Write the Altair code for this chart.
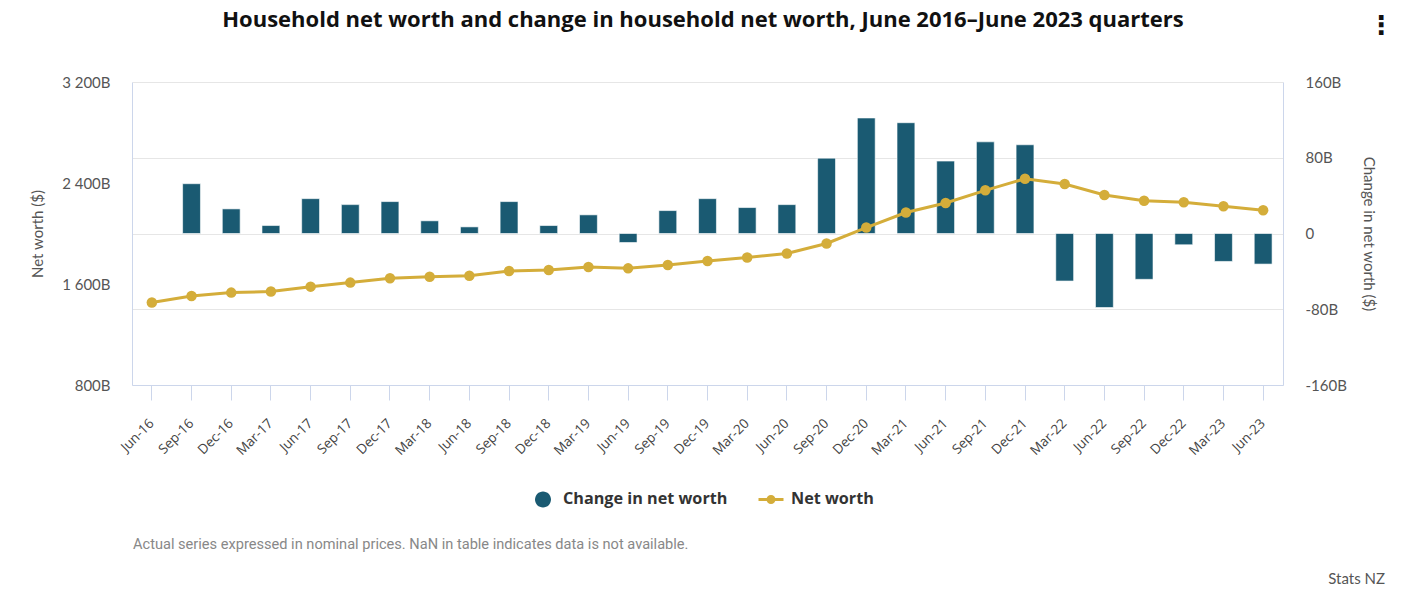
import altair as alt
import pandas as pd

quarters = ["Jun-16", "Sep-16", "Dec-16", "Mar-17", "Jun-17", "Sep-17", "Dec-17", "Mar-18",
            "Jun-18", "Sep-18", "Dec-18", "Mar-19", "Jun-19", "Sep-19", "Dec-19", "Mar-20",
            "Jun-20", "Sep-20", "Dec-20", "Mar-21", "Jun-21", "Sep-21", "Dec-21", "Mar-22",
            "Jun-22", "Sep-22", "Dec-22", "Mar-23", "Jun-23"]
net_worth = [1453, 1505, 1532, 1540, 1579, 1611, 1645, 1658, 1666, 1703, 1711, 1734, 1724, 1750,
             1782, 1810, 1842, 1921, 2047, 2166, 2242, 2342, 2434, 2392, 2305, 2260, 2247, 2216, 2184]
change = [None, 52.6, 26.0, 8.4, 36.8, 30.5, 33.7, 13.4, 7.0, 33.7, 8.4, 19.7, -9.5, 24.2,
          36.8, 27.4, 30.5, 79.6, 122.0, 117.0, 76.5, 96.8, 93.7, -50.2, -78.2, -48.4, -11.9, -29.5, -32.3]
series_names = ["Change in net worth", "Net worth"]
left_ticks = [800, 1600, 2400, 3200]
right_ticks = [-160, -80, 0, 80, 160]

TITLE = "Household net worth and change in household net worth, June 2016\u2013June 2023 quarters"
FOOTNOTE = "Actual series expressed in nominal prices. NaN in table indicates data is not available."
SOURCE = "Stats NZ"

TEAL = "#1a5a72"
GOLD = "#d4ad3a"
AXIS_LINE = "#ccd6eb"
GRID = "#e6e6e6"

df = pd.DataFrame({"quarter": quarters, "net_worth": net_worth, "change": change})

x_enc = alt.X(
    "quarter:N", sort=quarters,
    scale=alt.Scale(paddingInner=0.55, paddingOuter=0.275),
    axis=alt.Axis(title=None, labelAngle=-45, labelFont="Open Sans", labelFontSize=13.5,
                  labelColor="#444444", ticks=True, tickSize=15, tickColor=AXIS_LINE,
                  domainColor=AXIS_LINE, labelPadding=21, grid=False,
                  labelAlign="right", labelBaseline="middle"),
)

bars = alt.Chart(df).mark_bar(color=TEAL, stroke="#ffffff", strokeWidth=0.6).encode(
    x=x_enc,
    y=alt.Y("change:Q",
            scale=alt.Scale(domain=[-160, 160], nice=False, zero=False),
            axis=alt.Axis(orient="right", values=right_ticks, title="Change in net worth ($)",
                          labelExpr="datum.value == 0 ? '0' : datum.value + 'B'",
                          titlePadding=14, titleAngle=90)),
)

line = alt.Chart(df).mark_line(
    color=GOLD, strokeWidth=3,
    point=alt.OverlayMarkDef(color=GOLD, filled=True, size=110, opacity=1),
).encode(
    x=x_enc,
    y=alt.Y("net_worth:Q",
            scale=alt.Scale(domain=[800, 3200], nice=False, zero=False),
            axis=alt.Axis(orient="left", values=left_ticks, title="Net worth ($)",
                          labelExpr="replace(format(datum.value, ','), ',', ' ') + 'B'",
                          titlePadding=16)),
)

circle_path = "M0.8,0 A0.8,0.8 0 1,1 -0.8,0 A0.8,0.8 0 1,1 0.8,0 Z"
line_path = ("M-1.25,-0.15 L-0.3,-0.15 L-0.3,0.15 L-1.25,0.15 Z "
             "M0.3,-0.15 L1.25,-0.15 L1.25,0.15 L0.3,0.15 Z "
             "M0.45,0 A0.45,0.45 0 1,1 -0.45,0 A0.45,0.45 0 1,1 0.45,0 Z")

legend_def = alt.Legend(
    title=None, orient="none", legendX=401, legendY=407, direction="horizontal",
    labelFont="Open Sans", labelFontSize=16.2, labelFontWeight="bold", labelColor="#333333",
    labelLimit=400, symbolSize=400, symbolOpacity=1, symbolStrokeWidth=0, labelOffset=10,
    columnPadding=30, padding=0,
)
legend_df = pd.DataFrame({"series": series_names})
legend_layer = alt.Chart(legend_df).mark_point(filled=True, opacity=0).encode(
    color=alt.Color("series:N", scale=alt.Scale(domain=series_names, range=[TEAL, GOLD]),
                    legend=legend_def),
    shape=alt.Shape("series:N", scale=alt.Scale(domain=series_names, range=[circle_path, line_path]),
                    legend=legend_def),
)

title = alt.Chart(pd.DataFrame({"t": [TITLE]})).mark_text(
    align="center", baseline="middle", font="Open Sans", fontSize=22, fontWeight="bold",
    color="#111111", limit=1350
).encode(x=alt.value(571), y=alt.value(-62), text="t:N")

foot = alt.Chart(pd.DataFrame({"t": [FOOTNOTE]})).mark_text(
    align="left", baseline="middle", font="Roboto", fontSize=14.6, color="#888888"
).encode(x=alt.value(1), y=alt.value(463), text="t:N")

src = alt.Chart(pd.DataFrame({"t": [SOURCE]})).mark_text(
    align="right", baseline="middle", font="Lato", fontSize=15, color="#555555"
).encode(x=alt.value(1253), y=alt.value(497), text="t:N")

kebab = alt.Chart(pd.DataFrame({"t": ["\u22ee"]})).mark_text(
    align="center", baseline="middle", font="DejaVu Sans", fontSize=26, fontWeight="bold", color="#111111"
).encode(x=alt.value(1249), y=alt.value(-56), text="t:N")

chart = alt.layer(bars, line, legend_layer, title, foot, src, kebab).resolve_scale(
    y="independent"
).properties(
    width=1151, height=303,
    autosize=alt.AutoSizeParams(type="none"),
    padding={"left": 124, "top": 74, "right": 124, "bottom": 212},
).configure_view(stroke=None).configure_axis(
    labelFont="Lato", labelFontSize=15, labelColor="#555555",
    titleFont="Lato", titleFontSize=15, titleFontWeight="normal", titleColor="#555555",
    gridColor=GRID, gridWidth=1, domainColor=AXIS_LINE, ticks=False, labelPadding=22,
)

chart.save("out.html", embed_options={"renderer": "svg", "actions": False})
